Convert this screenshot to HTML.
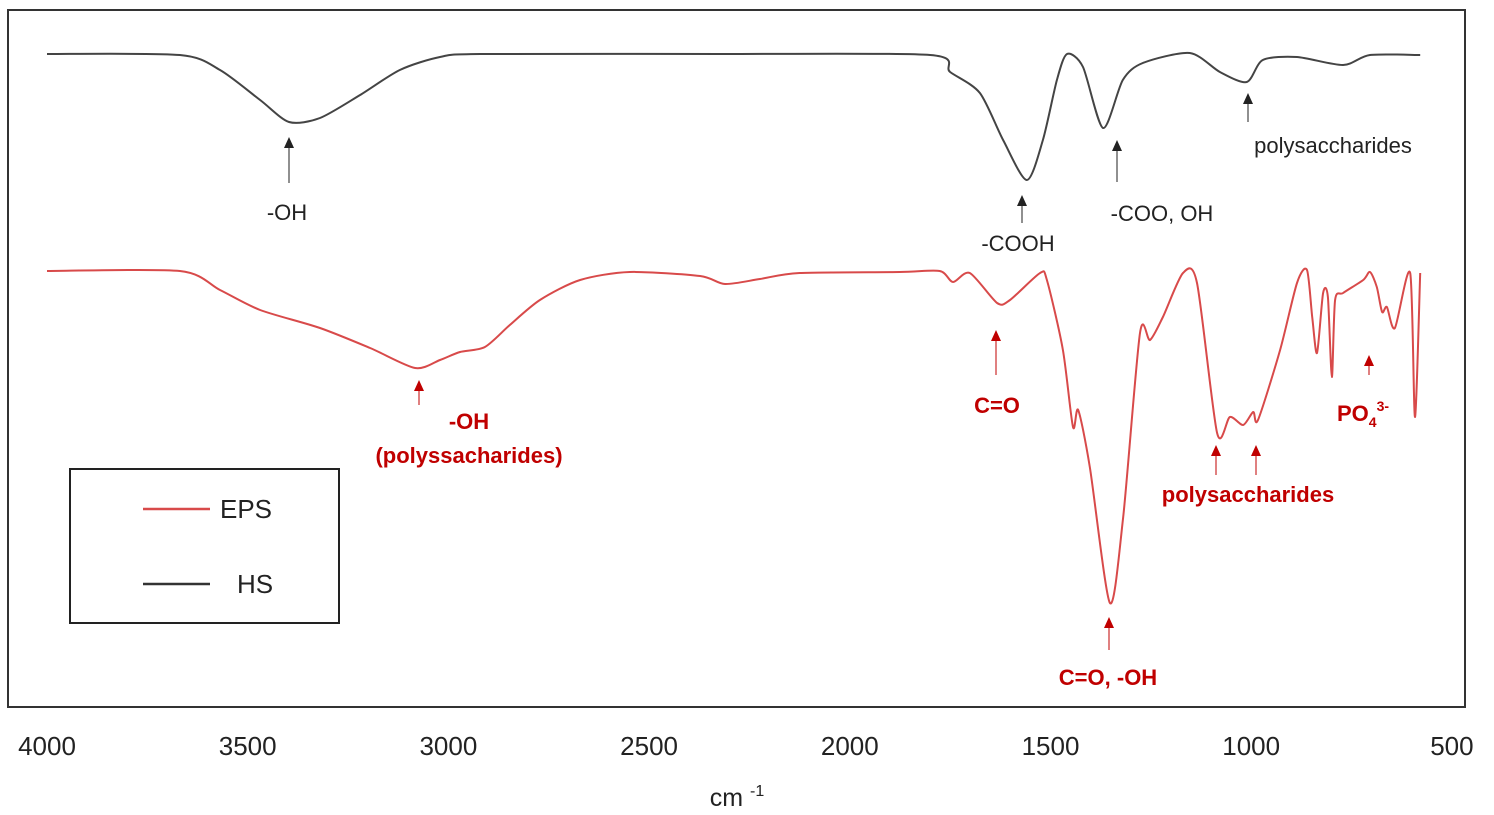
<!DOCTYPE html>
<html><head><meta charset="utf-8"><style>
body{margin:0;background:#fff;}
svg{display:block;font-family:"Liberation Sans",Arial,sans-serif;}
</style></head><body>
<svg id="chart" width="1494" height="815" viewBox="0 0 1494 815">
<rect x="8" y="10" width="1457" height="697" fill="#fff" stroke="#333" stroke-width="2"/>
<g id="ticks"></g>
<text x="737" y="806" font-size="25" text-anchor="middle" fill="#222">cm <tspan font-size="16" dy="-10">-1</tspan></text>
<g id="series"></g>
<g id="ann"></g>
<g>
<rect x="70" y="469" width="269" height="154" fill="#fff" stroke="#222" stroke-width="2"/>
<line x1="143" y1="509" x2="210" y2="509" stroke="#d84a4a" stroke-width="2.5"/>
<text x="220" y="518" font-size="26" fill="#222">EPS</text>
<line x1="143" y1="584" x2="210" y2="584" stroke="#333" stroke-width="2.5"/>
<text x="237" y="593" font-size="26" fill="#222">HS</text>
</g>
</svg>
<script>
const tickLabels=[4000,3500,3000,2500,2000,1500,1000,500];
const hsWave=[4000,3669,3569,3469,3397,3320,3220,3121,3021,2921,2323,1800,1750,1676,1618,1559,1519,1484,1459,1419,1369,1320,1270,1153,1078,1011,971,886,771,704,579];
const hsT=[653,652,637,607,585,589,612,637,650,653,653,652,635,614,567,527,567,627,653,640,579,627,644,654,635,625,647,650,642,652,652];
const epsWave=[4000,3669,3569,3469,3320,3195,3083,3021,2971,2909,2847,2772,2672,2548,2373,2311,2224,2125,1876,1776,1743,1701,1633,1601,1526,1509,1469,1444,1431,1402,1352,1319,1277,1252,1220,1170,1135,1085,1053,1020,995,983,928,886,861,848,836,821,809,799,791,771,721,704,687,674,662,642,604,592,579];
const epsT=[436,436,417,397,379,359,339,347,355,360,382,407,427,435,431,423,428,434,435,436,425,434,404,407,434,427,357,280,297,240,104,190,374,367,390,434,424,274,290,282,295,287,357,424,437,390,354,414,410,330,407,414,427,435,420,395,400,379,434,290,434];
const annText=[
 {x:287,y:220,t:"-OH",c:"#222",b:false,ax:289,tip:137,end:183},
 {x:1018,y:251,t:"-COOH",c:"#222",b:false,ax:1022,tip:195,end:223},
 {x:1162,y:221,t:"-COO, OH",c:"#222",b:false,ax:1117,tip:140,end:182},
 {x:1333,y:153,t:"polysaccharides",c:"#222",b:false,ax:1248,tip:93,end:122},
 {x:469,y:429,t:"-OH",c:"#c00000",b:true,ax:419,tip:380,end:405},
 {x:469,y:463,t:"(polyssacharides)",c:"#c00000",b:true,ax:null},
 {x:997,y:413,t:"C=O",c:"#c00000",b:true,ax:996,tip:330,end:375},
 {x:1108,y:685,t:"C=O, -OH",c:"#c00000",b:true,ax:1109,tip:617,end:650},
 {x:1248,y:502,t:"polysaccharides",c:"#c00000",b:true,ax:1216,tip:445,end:475},
 {x:null,ax:1256,tip:445,end:475,c:"#c00000"},
 {x:1363,y:421,t:"PO",c:"#c00000",b:true,ax:1369,tip:355,end:375,po:true}
];
const NS="http://www.w3.org/2000/svg";
const sx=w=>47+(4000-w)*0.4014;
const sy=t=>707-t;
const svg=document.getElementById('chart');
const tg=document.getElementById('ticks');
tickLabels.forEach(v=>{
 const t=document.createElementNS(NS,'text');
 t.setAttribute('x',sx(v));t.setAttribute('y',755);
 t.setAttribute('font-size','26');t.setAttribute('text-anchor','middle');t.setAttribute('fill','#222');
 t.textContent=v;
 
 
 tg.appendChild(t);
});
function line(ws,ts,col,name){
 const pts=ws.map((w,i)=>[sx(w),sy(ts[i])]);
 let d='M'+pts[0][0].toFixed(1)+','+pts[0][1].toFixed(1);
 for(let i=0;i<pts.length-1;i++){
  const p0=pts[Math.max(0,i-1)],p1=pts[i],p2=pts[i+1],p3=pts[Math.min(pts.length-1,i+2)];
  const k=1/6*0.8;
  const c1=[p1[0]+(p2[0]-p0[0])*k,p1[1]+(p2[1]-p0[1])*k];
  const c2=[p2[0]-(p3[0]-p1[0])*k,p2[1]-(p3[1]-p1[1])*k];
  d+=` C${c1[0].toFixed(1)},${c1[1].toFixed(1)} ${c2[0].toFixed(1)},${c2[1].toFixed(1)} ${p2[0].toFixed(1)},${p2[1].toFixed(1)}`;
 }
 const p=document.createElementNS(NS,'path');
 p.setAttribute('d',d);
 p.setAttribute('fill','none');p.setAttribute('stroke',col);p.setAttribute('stroke-width','2');p.setAttribute('stroke-linejoin','round');
 
 
 document.getElementById('series').appendChild(p);
}
line(hsWave,hsT,'#444','hs-series-line');
line(epsWave,epsT,'#d84a4a','eps-series-line');
const ag=document.getElementById('ann');
annText.forEach(a=>{
 if(a.ax!==null&&a.ax!==undefined){
  const l=document.createElementNS(NS,'line');
  l.setAttribute('x1',a.ax);l.setAttribute('x2',a.ax);l.setAttribute('y1',a.tip+8);l.setAttribute('y2',a.end);
  l.setAttribute('stroke',a.c);l.setAttribute('stroke-width','1');
  
  
  ag.appendChild(l);
  const h=document.createElementNS(NS,'polygon');
  h.setAttribute('points',`${a.ax},${a.tip} ${a.ax-5},${a.tip+11} ${a.ax+5},${a.tip+11}`);
  h.setAttribute('fill',a.c);
  
  
  ag.appendChild(h);
 }
 if(a.x!==null){
  const t=document.createElementNS(NS,'text');
  t.setAttribute('x',a.x);t.setAttribute('y',a.y);t.setAttribute('font-size','22');
  t.setAttribute('text-anchor','middle');t.setAttribute('fill',a.c);
  if(a.b)t.setAttribute('font-weight','bold');
  if(a.po){t.innerHTML='PO<tspan font-size="14" dy="6">4</tspan><tspan font-size="14" dy="-16">3-</tspan>';}
  else t.textContent=a.t;
  
  
  ag.appendChild(t);
 }
});
</script>
</body></html>
